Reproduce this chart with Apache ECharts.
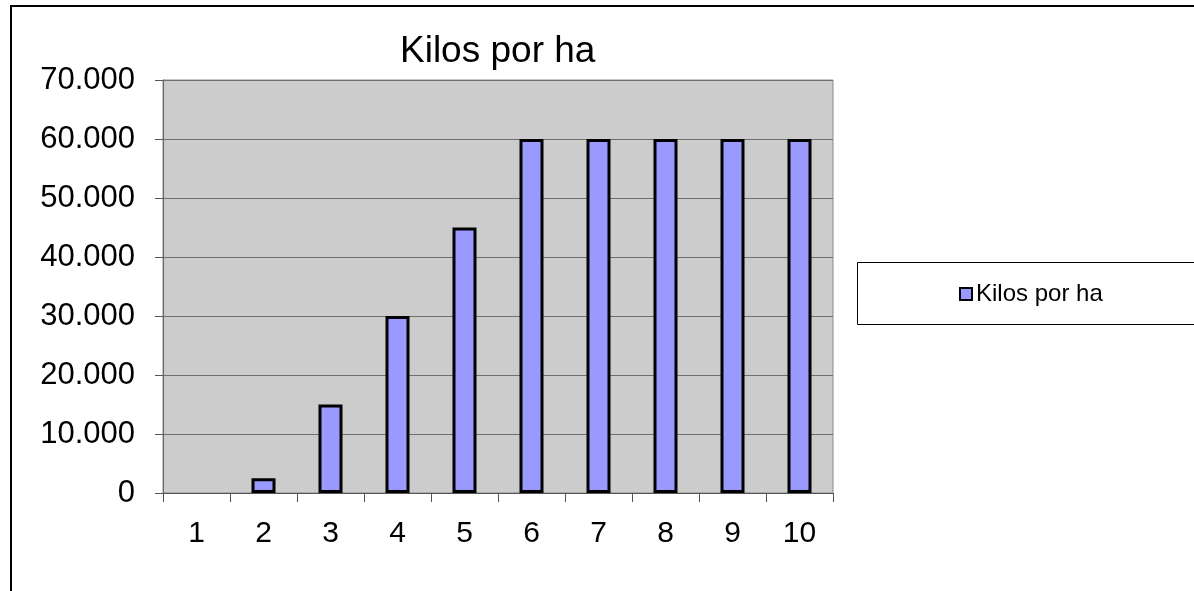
<!DOCTYPE html>
<html>
<head>
<meta charset="utf-8">
<style>
  html, body { margin: 0; padding: 0; background: #fff; }
  #main { width: 1194px; height: 591px; }
</style>
<script src="https://cdn.jsdelivr.net/npm/echarts@6/dist/echarts.min.js"></script>
</head>
<body>
<div id="main"></div>
<script>
// datos del grafico
var categorias = ['1', '2', '3', '4', '5', '6', '7', '8', '9', '10'];
var kilosPorHa = [0, 2500, 15000, 30000, 45000, 60000, 60000, 60000, 60000, 60000];
var serieNombre = 'Kilos por ha';
var yMin = 0, yMax = 70000, yPaso = 10000;

function miles(v) {
    // 70000 -> 70.000
    return String(v).replace(/\B(?=(\d{3})+(?!\d))/g, '.');
}

var myChart = echarts.init(document.getElementById('main'));
var fuente = 'Liberation Sans, Arial, sans-serif';

// barras con valor 0 no se dibujan (sin borde)
var datosBarras = kilosPorHa.map(function (v) {
    return v === 0 ? { value: v, itemStyle: { borderWidth: 0 } } : v;
});

var option = {
    backgroundColor: '#ffffff',
    animation: false,
    title: {
        text: serieNombre,
        left: 400,
        top: 33,
        padding: 0,
        textStyle: { fontFamily: fuente, fontSize: 37, fontWeight: 'normal', color: '#000' }
    },
    legend: {
        data: [serieNombre],
        left: 959,
        top: 282,
        padding: 0,
        icon: 'rect',
        itemWidth: 12,
        itemHeight: 12,
        itemGap: 5,
        itemStyle: { borderColor: '#000', borderWidth: 2 },
        textStyle: { fontFamily: fuente, fontSize: 24, color: '#000', padding: [0, 0, 0, -1] }
    },
    graphic: [
        {
            type: 'rect', z: -1, silent: true,
            shape: { x: 11, y: 6, width: 1400, height: 800 },
            style: { fill: null, stroke: '#000', lineWidth: 2 }
        },
        {
            type: 'rect', z: -1, silent: true,
            shape: { x: 857.5, y: 262.5, width: 400, height: 62 },
            style: { fill: '#fff', stroke: '#000', lineWidth: 1 }
        }
    ],
    grid: {
        left: 163,
        top: 80,
        right: 361,
        bottom: 98,
        show: true,
        backgroundColor: '#cccccc',
        borderColor: '#8a8a8a',
        borderWidth: 1,
        containLabel: false
    },
    xAxis: {
        type: 'category',
        data: categorias,
        boundaryGap: true,
        axisLine: { lineStyle: { color: '#555', width: 1 } },
        axisTick: { show: true, inside: false, length: 9, alignWithLabel: false, lineStyle: { color: '#555' } },
        axisLabel: { margin: 26, fontFamily: fuente, fontSize: 30, color: '#000' },
        splitLine: { show: false }
    },
    yAxis: {
        type: 'value',
        min: yMin,
        max: yMax,
        interval: yPaso,
        axisLine: { show: true, lineStyle: { color: '#666', width: 1 } },
        axisTick: { show: true, inside: false, length: 8, lineStyle: { color: '#555' } },
        axisLabel: { margin: 28, fontFamily: fuente, fontSize: 31, color: '#000', padding: [3, 0, 0, 0], formatter: miles },
        splitLine: { show: true, lineStyle: { color: '#707070', width: 1 } }
    },
    series: [{
        name: serieNombre,
        type: 'bar',
        data: datosBarras,
        barWidth: 24,
        itemStyle: { color: '#9999ff', borderColor: '#000', borderWidth: 3 }
    }]
};

myChart.setOption(option);
</script>
</body>
</html>
